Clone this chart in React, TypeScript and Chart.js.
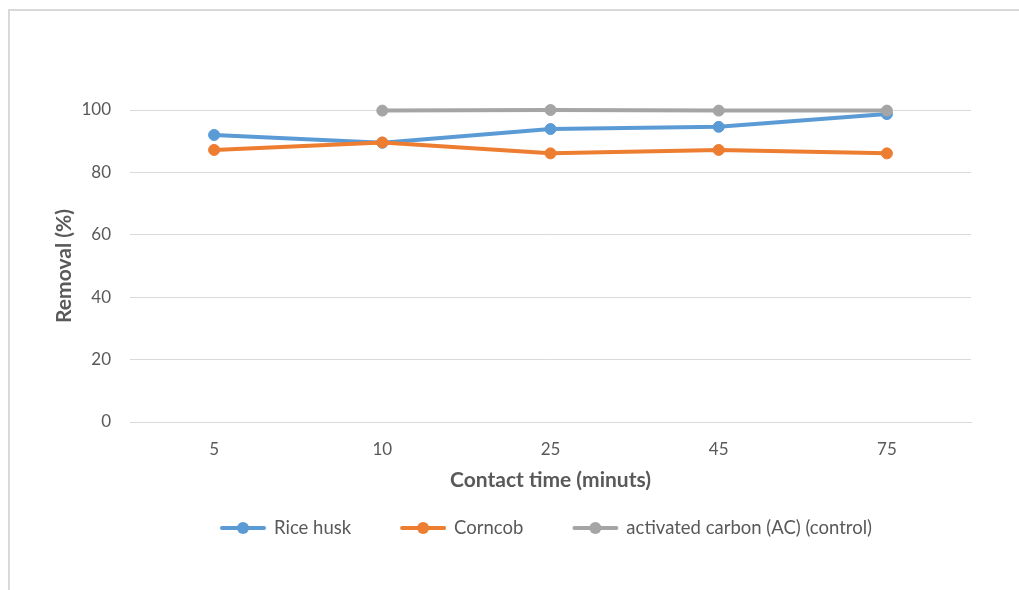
import React, { useEffect, useRef } from 'react';
import { Chart, registerables } from 'chart.js';

Chart.register(...registerables);

const categories = ['5', '10', '25', '45', '75'];
const riceHusk = [92.0, 89.5, 93.9, 94.6, 98.7];
const corncob = [87.2, 89.6, 86.1, 87.2, 86.1];
const activatedCarbon = [null, 99.8, 100, 99.8, 99.8];
const seriesNames = ['Rice husk', 'Corncob', 'activated carbon (AC) (control)'];
const seriesColors = ['#5B9BD5', '#ED7D31', '#A5A5A5'];
const yMin = 0;
const yMax = 100;
const yStep = 20;

const FONT = 'Lato, "Open Sans", sans-serif';
const TEXT = '#595959';

const framePlugin = {
  id: 'frame',
  beforeDraw(chart: any) {
    const ctx = chart.ctx;
    ctx.save();
    ctx.fillStyle = '#ffffff';
    ctx.fillRect(0, 0, chart.width, chart.height);
    ctx.fillStyle = '#D9D9D9';
    ctx.fillRect(8, 9, 2, chart.height - 9);
    ctx.fillRect(8, 9, chart.width - 8, 2);
    ctx.restore();
  },
};

const legendPlugin = {
  id: 'customLegend',
  afterDraw(chart: any) {
    const ctx = chart.ctx;
    const y = 528;
    const symW = 46;
    const gap = 8;
    const itemGap = 49;
    ctx.save();
    ctx.font = `18.5px ${FONT}`;
    const items = chart.data.datasets.map((ds: any) => ({
      label: ds.label,
      color: ds.borderColor,
      w: ctx.measureText(ds.label).width,
    }));
    let total = 0;
    items.forEach((it: any, i: number) => {
      total += symW + gap + it.w + (i < items.length - 1 ? itemGap : 0);
    });
    let x = 546 - total / 2;
    items.forEach((it: any) => {
      ctx.strokeStyle = it.color;
      ctx.lineWidth = 4;
      ctx.lineCap = 'round';
      ctx.beginPath();
      ctx.moveTo(x + 2, y);
      ctx.lineTo(x + symW - 2, y);
      ctx.stroke();
      ctx.fillStyle = it.color;
      ctx.beginPath();
      ctx.arc(x + symW / 2, y, 6, 0, Math.PI * 2);
      ctx.fill();
      ctx.fillStyle = TEXT;
      ctx.textAlign = 'left';
      ctx.textBaseline = 'middle';
      ctx.fillText(it.label, x + symW + gap, y);
      x += symW + gap + it.w + itemGap;
    });
    ctx.restore();
  },
};

export default function App() {
  const ref = useRef<HTMLCanvasElement | null>(null);

  useEffect(() => {
    document.body.style.margin = '0';
    const canvas = ref.current;
    if (!canvas) return;
    const series = [riceHusk, corncob, activatedCarbon];
    const chart = new Chart(canvas, {
      type: 'line',
      data: {
        labels: categories,
        datasets: series.map((data, i) => ({
          label: seriesNames[i],
          data: data as any,
          borderColor: seriesColors[i],
          backgroundColor: seriesColors[i],
          pointBackgroundColor: seriesColors[i],
          pointBorderColor: seriesColors[i],
          borderWidth: 4,
          pointRadius: 5.5,
          pointBorderWidth: 1,
          borderCapStyle: 'round',
          borderJoinStyle: 'round',
          tension: 0,
          clip: false as any,
          order: 3 - i,
        })),
      },
      options: {
        responsive: false,
        animation: false,
        events: [],
        layout: { padding: { left: 0, right: 48, top: 110, bottom: 90 } },
        plugins: {
          legend: { display: false },
          tooltip: { enabled: false },
          title: { display: false },
        },
        scales: {
          x: {
            offset: true,
            grid: { display: false, drawTicks: false },
            border: { display: true, color: '#D9D9D9', width: 1 },
            ticks: { color: TEXT, font: { family: FONT, size: 17 }, padding: 17, maxRotation: 0 },
            title: {
              display: true,
              text: 'Contact time (minuts)',
              color: TEXT,
              font: { family: FONT, size: 21, weight: 'bold' },
              padding: { top: 4, bottom: 7 },
            },
            afterFit(scale: any) {
              scale.height = 78;
            },
          },
          y: {
            min: yMin,
            max: yMax,
            grid: { color: '#D9D9D9', lineWidth: 1, drawTicks: false },
            border: { display: false },
            ticks: { stepSize: yStep, color: TEXT, font: { family: FONT, size: 17 }, padding: 19 },
            title: {
              display: true,
              text: 'Removal (%)',
              color: TEXT,
              font: { family: FONT, size: 21, weight: 'bold' },
              padding: { top: 52, bottom: 4 },
            },
            afterFit(scale: any) {
              scale.width = 130;
            },
          },
        },
      },
      plugins: [framePlugin, legendPlugin],
    });
    return () => chart.destroy();
  }, []);

  return (
    <div style={{ position: 'absolute', left: 0, top: 0, width: 1019, height: 590 }}>
      <canvas ref={ref} width={1019} height={590} />
    </div>
  );
}
